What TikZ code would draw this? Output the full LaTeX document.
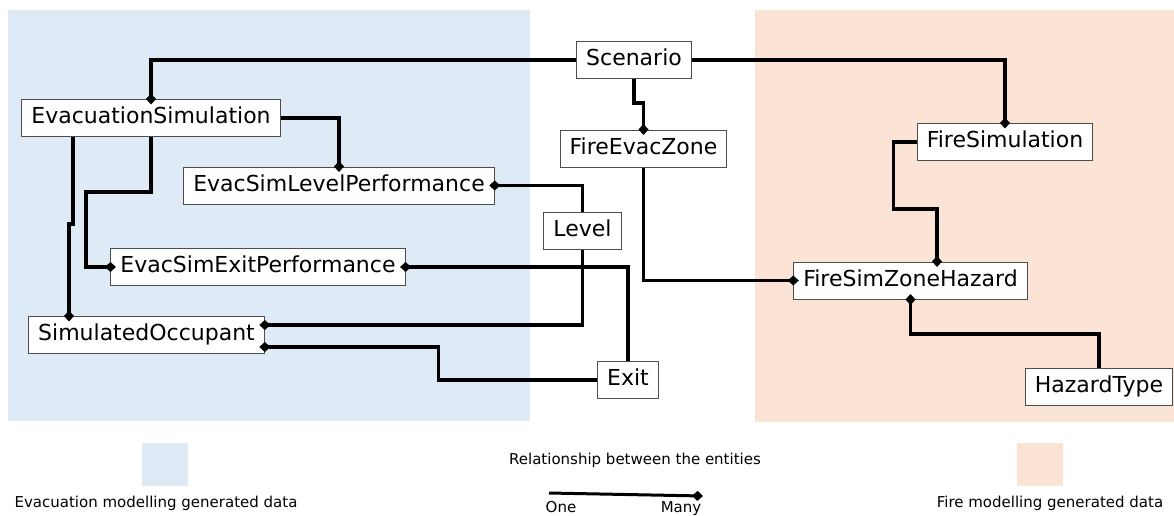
\documentclass[tikz,border=0pt]{standalone}
\usepackage{fontspec}
\setmainfont{DejaVu Sans}
\usetikzlibrary{arrows.meta}

\definecolor{evacfill}{HTML}{DEEAF6}
\definecolor{firefill}{HTML}{FBE4D6}

\tikzset{
    entity/.style={draw=black!70, line width=1pt, fill=white, rectangle,
        font=\fontsize{22}{26}\selectfont, text height=16pt, text depth=4.5pt,
        minimum height=37pt, inner xsep=9.5pt},
    rel/.style={line width=3.2pt, -{Diamond[length=11pt,width=10pt]}, shorten >=-5.5pt},
    keytext/.style={font=\fontsize{15}{18}\selectfont, inner sep=0pt},
    keybox/.style={rectangle, minimum width=46pt, minimum height=43pt, inner sep=0pt}
}

\begin{document}
\begin{tikzpicture}[x=1pt, y=-1pt]
    \useasboundingbox (0,0) rectangle (1174,515);

    % Draw data regions
    \fill[evacfill] (8,10) rectangle (530,421);
    \fill[firefill] (755,10) rectangle (1174,422);

    % Draw entities
    \node (scenario) at (634, 60) [entity] {Scenario};
    \node (evacsim) at (151, 118) [entity] {EvacuationSimulation};
    \node (fireevac) at (643.5, 148.5) [entity] {FireEvacZone};
    \node (firesim) at (1005, 142) [entity] {FireSimulation};
    \node (levelperf) at (339, 185.5) [entity] {EvacSimLevelPerformance};
    \node (level) at (582.5, 231) [entity] {Level};
    \node (exitperf) at (258, 267) [entity] {EvacSimExitPerformance};
    \node (zonehazard) at (910.5, 280.5) [entity] {FireSimZoneHazard};
    \node (occupant) at (146.5, 335) [entity] {SimulatedOccupant};
    \node (exit) at (628, 380) [entity] {Exit};
    \node (hazardtype) at (1099, 387) [entity] {HazardType};

    % Draw relationships (diamond on the many side)
    \draw[rel] (scenario.west) -| (evacsim.north);
    \draw[rel] (scenario.east) -| (firesim.north);
    \draw[rel] (scenario.south) -- ++(0, 24) -| (fireevac.north);
    \draw[rel] (evacsim.east) -| (levelperf.north);
    \draw[rel] ([xshift=-78pt]evacsim.south) -- ++(0, 87) -| ([xshift=-77.5pt]occupant.north);
    \draw[rel] (evacsim.south) -- ++(0, 55) -- ++(-65, 0) |- (exitperf.west);
    \draw[rel] (level.north) |- (levelperf.east);
    \draw[rel] (level.south) |- ([yshift=10pt]occupant.east);
    \draw[rel] (exit.north) |- (exitperf.east);
    \draw[rel] (exit.west) -- ++(-159, 0) |- ([yshift=-12pt]occupant.east);
    \draw[rel] (fireevac.south) |- (zonehazard.west);
    \draw[rel] (firesim.west) -- ++(-23, 0) -- ++(0, 67) -| ([xshift=26.5pt]zonehazard.north);
    \draw[rel] (hazardtype.north) -- ++(0, -34) -| (zonehazard.south);

    % Draw legend
    \node (evackey) at (165, 464.5) [keybox, fill=evacfill] {};
    \node (evaclabel) at (156, 503) [keytext] {Evacuation modelling generated data};
    \node (firekey) at (1039.5, 464.5) [keybox, fill=firefill] {};
    \node (firelabel) at (1050, 503) [keytext] {Fire modelling generated data};

    \node (reltitle) at (635, 460) [keytext] {Relationship between the entities};
    \coordinate (one) at (549, 493);
    \coordinate (many) at (703, 496);
    \draw[rel, line width=3pt, shorten >=0pt] (one) -- (many);
    \node (onelabel) at (561, 507) [keytext] {One};
    \node (manylabel) at (681, 509) [keytext] {Many};
\end{tikzpicture}
\end{document}
